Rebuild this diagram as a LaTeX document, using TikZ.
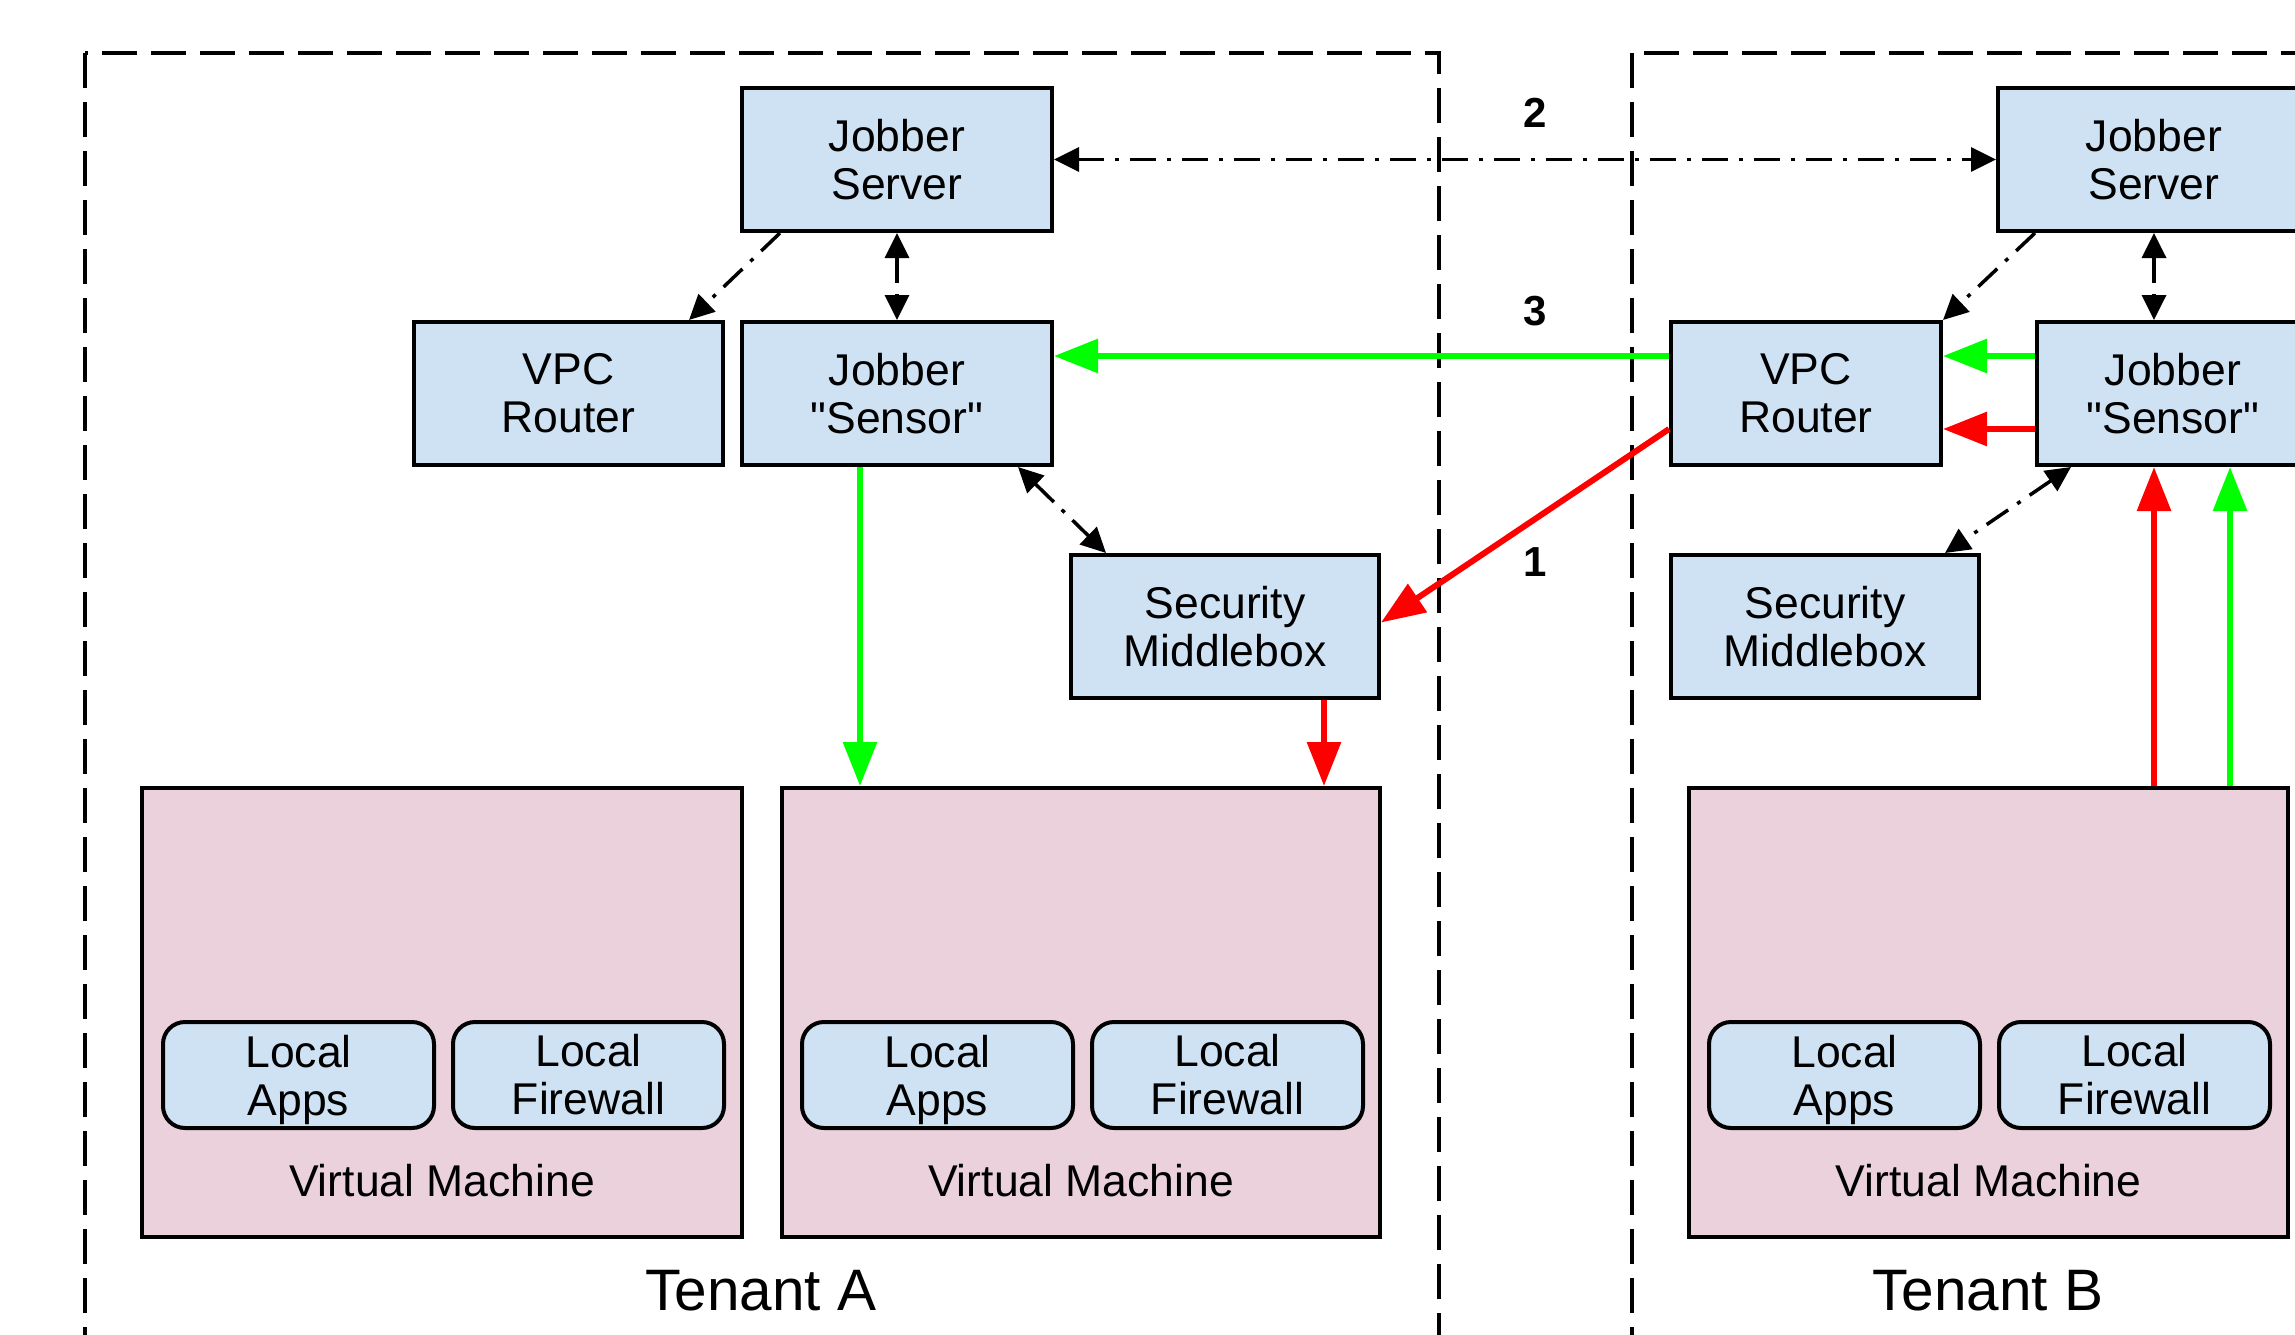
\documentclass[tikz,border=0pt]{standalone}
\usepackage{fontspec}
\setmainfont{Liberation Sans}[Ligatures=TeXOff]
\usetikzlibrary{arrows.meta,calc}
\definecolor{boxblue}{HTML}{CFE2F3}
\definecolor{vmpink}{HTML}{EAD1DC}
\definecolor{arrgreen}{HTML}{00FF00}
\definecolor{arrred}{HTML}{FF0000}
\newcommand\nodepth[1]{\raisebox{0pt}[\height][0pt]{#1}}
\tikzset{
  BigTip/.tip={Triangle[length=44pt,width=33pt]},
  SmallTip/.tip={Triangle[length=25pt,width=24pt]},
  comp/.style={draw=black, line width=4pt, fill=boxblue, align=center,
    font=\fontsize{44.5}{48}\selectfont, minimum height=143pt, inner sep=0pt},
  localbox/.style={draw=black, line width=4pt, fill=boxblue, align=center, rounded corners=22pt,
    font=\fontsize{44.5}{48}\selectfont, minimum height=106pt, minimum width=271pt, inner sep=0pt},
  vmbox/.style={draw=black, line width=4pt, fill=vmpink, minimum height=449pt, inner sep=0pt},
  vmlabel/.style={font=\fontsize{44.5}{48}\selectfont, inner sep=0pt},
  tenantbox/.style={draw=black, line width=4pt, dash pattern=on 35pt off 14pt},
  tenantlabel/.style={font=\fontsize{58.5}{62}\selectfont, inner sep=0pt},
  numlabel/.style={font=\bfseries\fontsize{42}{48}\selectfont, inner sep=0pt},
  dd/.style={draw=black, line width=3.5pt, dash pattern=on 26pt off 11pt on 4pt off 11pt},
  ddone/.style={dd, -{SmallTip}},
  ddtwo/.style={dd, {SmallTip}-{SmallTip}},
  greenarr/.style={draw=arrgreen, line width=6pt, -{BigTip[color=arrgreen]}},
  redarr/.style={draw=arrred, line width=6pt, -{BigTip[color=arrred]}},
}
\begin{document}
\begin{tikzpicture}[x=1pt,y=-1pt]
\useasboundingbox (0,0) rectangle (2295,1335);
\clip (0,0) rectangle (2295,1335);

% tenant areas
\draw[tenantbox] (85,53) rectangle (1439,1420);
\draw[tenantbox] (1632,53) rectangle (2420,1420);
\node[tenantlabel] (tenA) at (761,1291) {Tenant A};
\node[tenantlabel] (tenB) at (1988,1291) {Tenant B};

% Tenant A components
\node[comp, minimum width=310pt] (srvA) at (897,159.5) {Jobber\\Server};
\node[comp, minimum width=309pt] (rtrA) at (568.5,393.5) {VPC\\Router};
\node[comp, minimum width=310pt] (senA) at (897,393.5) {Jobber\\"Sensor"};
\node[comp, minimum width=308pt] (mbA) at (1225,626.5) {Security\\Middlebox};

\node[vmbox, minimum width=600pt] (vmA1) at (442,1012.5) {};
\node[vmbox, minimum width=598pt] (vmA2) at (1081,1012.5) {};
\node[localbox] (appA1) at (298.5,1075) {Local\\\nodepth{Apps}};
\node[localbox] (fwA1) at (588.5,1075) {Local\\Firewall};
\node[localbox] (appA2) at (937.5,1075) {Local\\\nodepth{Apps}};
\node[localbox] (fwA2) at (1227.5,1075) {Local\\Firewall};
\node[vmlabel] (vmlA1) at (442,1181) {Virtual Machine};
\node[vmlabel] (vmlA2) at (1081,1181) {Virtual Machine};

% Tenant B components
\node[comp, minimum width=312pt] (srvB) at (2154,159.5) {Jobber\\Server};
\node[comp, minimum width=270pt] (rtrB) at (1806,393.5) {VPC\\Router};
\node[comp, minimum width=272pt] (senB) at (2173,393.5) {Jobber\\"Sensor"};
\node[comp, minimum width=308pt] (mbB) at (1825,626.5) {Security\\Middlebox};

\node[vmbox, minimum width=599pt] (vmB) at (1988.5,1012.5) {};
\node[localbox] (appB) at (1844.5,1075) {Local\\\nodepth{Apps}};
\node[localbox] (fwB) at (2134.5,1075) {Local\\Firewall};
\node[vmlabel] (vmlB) at (1988.5,1181) {Virtual Machine};

% number labels
\node[numlabel] (n2) at (1535,113) {2};
\node[numlabel] (n3) at (1535,311) {3};
\node[numlabel] (n1) at (1535,562) {1};

% Tenant A connectors
\draw[ddone] ([xshift=40pt]srvA.south west) -- ([xshift=-36pt]rtrA.north east);
\draw[ddtwo] (srvA.south) -- (senA.north);
\draw[ddtwo] ([xshift=-36pt]senA.south east) -- ([xshift=37pt]mbA.north west);
\draw[greenarr] ([xshift=120pt]senA.south west) -- ([xshift=120pt]senA.south west |- vmA2.north);
\draw[redarr] ([xshift=-57pt]mbA.south east) -- ([xshift=-57pt]mbA.south east |- vmA2.north);

% cross-tenant connectors
\draw[ddtwo] (srvA.east) -- (srvB.west);
\draw[greenarr] ([yshift=37.5pt]rtrB.west) -- ([yshift=37.5pt]senA.east);
\draw[redarr] ([yshift=-35.5pt]rtrB.west) -- ([yshift=4pt]mbA.east);

% Tenant B connectors
\draw[ddone] ([xshift=39pt]srvB.south west) -- (rtrB.north east);
\draw[ddtwo] (srvB.south) -- (srvB.south |- senB.north);
\draw[ddtwo] ([xshift=36pt]senB.south west) -- ([xshift=-36pt]mbB.north east);
\draw[greenarr] ([yshift=37.5pt]senB.west) -- ([yshift=37.5pt]rtrB.east);
\draw[redarr] ([yshift=-35.5pt]senB.west) -- ([yshift=-35.5pt]rtrB.east);
\draw[redarr] (srvB.south |- vmB.north) -- (srvB.south |- senB.south);
\coordinate (gB) at ([xshift=57pt]senB.south);
\draw[greenarr] (gB |- vmB.north) -- (gB);
\end{tikzpicture}
\end{document}
